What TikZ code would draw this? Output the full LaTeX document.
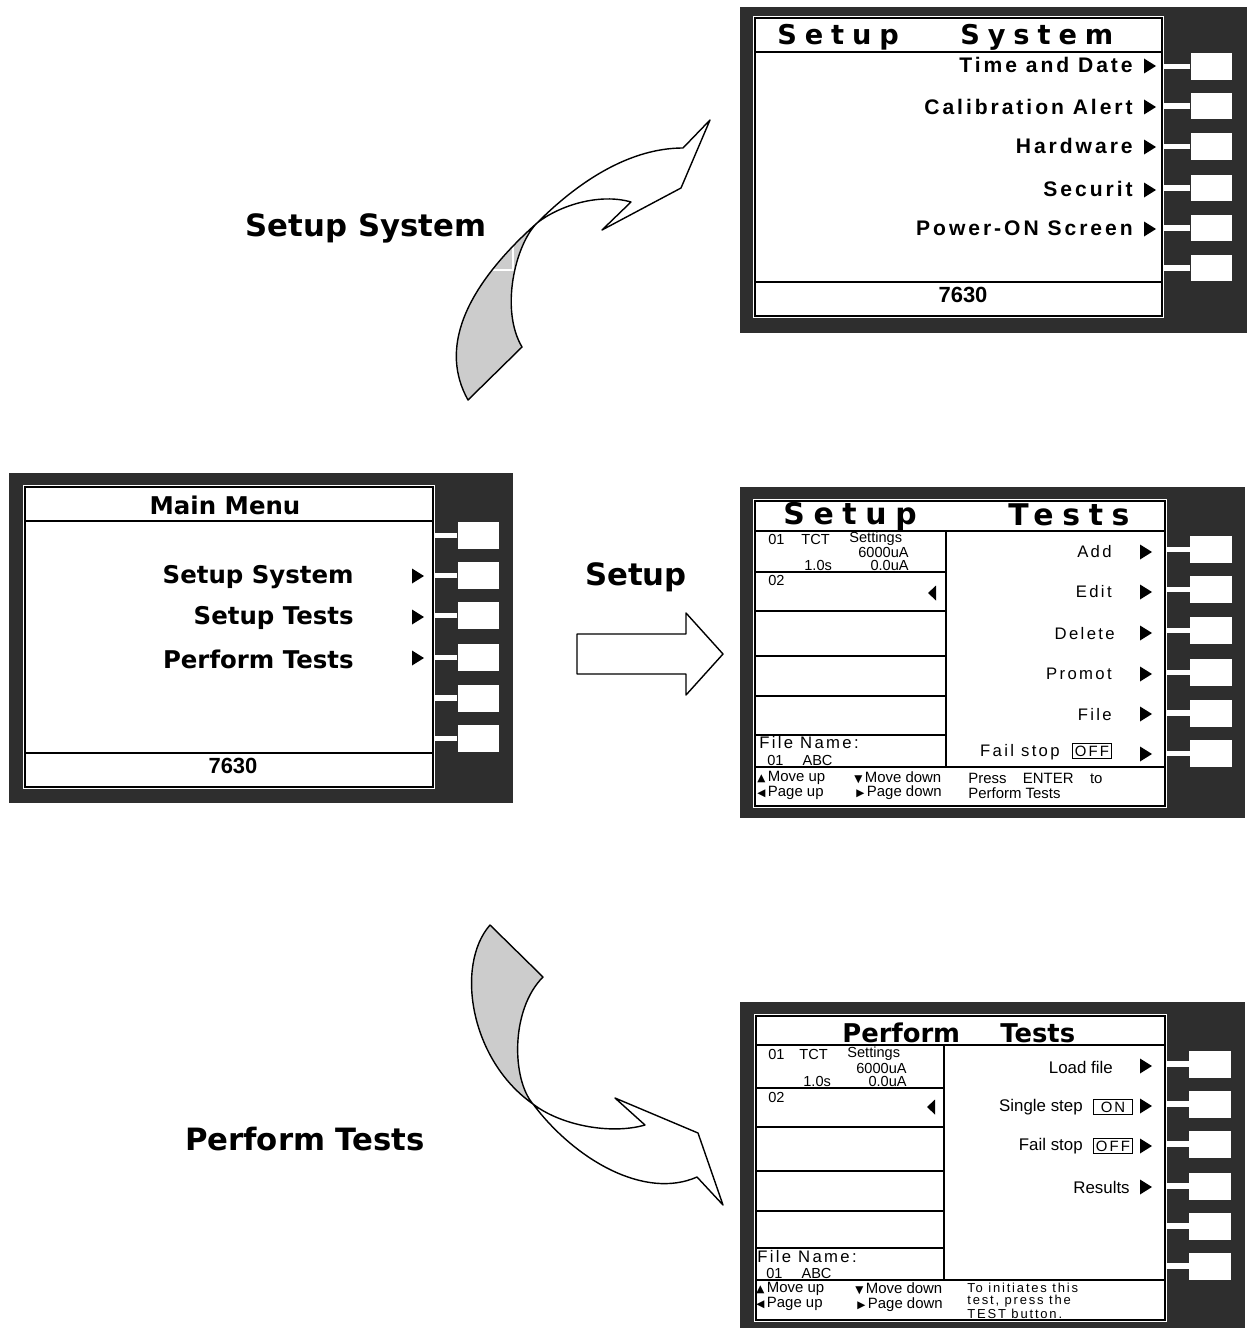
\documentclass[tikz,border=0pt]{standalone}
\usepackage{fontspec}
\setmainfont{Liberation Sans}
\newfontfamily\heavyfont{DejaVu Sans}
\newfontfamily\heavyspaced{DejaVu Sans}[LetterSpace=29]
\newfontfamily\spacedfont{Liberation Sans}[LetterSpace=14]
\newfontfamily\glyphfont{DejaVu Sans}
\usepackage{tikz}
\tikzstyle{caption}=[font=\heavyfont\bfseries\fontsize{17.5}{21}\selectfont, inner sep=0]
\tikzstyle{panel}=[fill=black!82]
\tikzstyle{screen}=[fill=white]
\tikzstyle{rule}=[line width=0.6pt]
\tikzstyle{btn}=[rectangle, fill=white, minimum width=0.83cm, minimum height=0.54cm, inner sep=0]
\tikzstyle{bar}=[white, line width=3.4pt]
\tikzstyle{curl}=[line width=0.8pt, line join=round]
\tikzstyle{hdr1}=[font=\heavyspaced\bfseries\fontsize{15.5}{18}\selectfont, anchor=base west, inner sep=0]
\tikzstyle{hdr2}=[font=\heavyspaced\bfseries\fontsize{17}{20}\selectfont, anchor=base west, inner sep=0]
\tikzstyle{hdr3}=[font=\heavyfont\bfseries\fontsize{14.7}{17}\selectfont, anchor=base west, inner sep=0]
\tikzstyle{mmtext}=[font=\heavyfont\bfseries\fontsize{13.9}{16}\selectfont, inner sep=0]
\tikzstyle{num}=[font=\bfseries\fontsize{12.5}{14}\selectfont, inner sep=0]
\tikzstyle{sysitem}=[font=\spacedfont\bfseries\fontsize{12}{14}\selectfont, anchor=east, inner sep=0]
\tikzstyle{tstitem}=[font=\spacedfont\fontsize{9.5}{11}\selectfont, anchor=east, inner sep=0]
\tikzstyle{perfitem}=[font=\fontsize{9.6}{11}\selectfont, anchor=east, inner sep=0]
\tikzstyle{tiny}=[font=\fontsize{8.3}{9}\selectfont, inner sep=0]
\tikzstyle{fname}=[font=\spacedfont\fontsize{9.5}{11}\selectfont, anchor=west, inner sep=0]
\tikzstyle{foot}=[font=\fontsize{8.5}{9}\selectfont, anchor=west, inner sep=0]
\tikzstyle{footsp}=[font=\spacedfont\fontsize{7.4}{6.8}\selectfont, anchor=west, align=left, inner sep=0]
\tikzstyle{onoff}=[draw, line width=0.6pt, font=\spacedfont\fontsize{8.5}{9}\selectfont, minimum width=0.78cm, minimum height=0.3cm, inner sep=0]
\newcommand\menutri[2]{\fill ({#1-6},{#2-7.5}) -- ({#1+6},{#2}) -- ({#1-6},{#2+7.5}) -- cycle;}
\newcommand\backtri[2]{\fill ({#1+4},{#2-7.5}) -- ({#1-4},{#2}) -- ({#1+4},{#2+7.5}) -- cycle;}
\newcommand\footmark[1]{{\glyphfont\fontsize{6}{6}\selectfont #1}}

\begin{document}
\begin{tikzpicture}[x=0.02cm,y=-0.02cm]
\useasboundingbox (0,0) rectangle (1249,1328);

%Curved arrow up
\fill[black!20] (468,400) .. controls (440,350) and (462,290) .. (537,223) .. controls (515,245) and (500,310) .. (522,347) -- cycle;
\node[caption, draw=white, line width=0.6pt, minimum width=5.88cm, minimum height=1.68cm] (capsys) at (366,228) {Setup System};
\draw[curl] (468,400) .. controls (440,350) and (462,290) .. (537,223) .. controls (590,170) and (640,148) .. (683,148) -- (710,120) -- (681,188) -- (602,230) -- (631,202) .. controls (600,193) and (560,205) .. (537,223) .. controls (515,245) and (500,310) .. (522,347) -- cycle;

%Straight arrow
\node[caption] (capset) at (636,577) {Setup};
\draw[curl] (577,634) -- (686,634) -- (686,613) -- (723,654) -- (686,695) -- (686,674) -- (577,674) -- cycle;

%Curved arrow down
\fill[black!20] (490,925) .. controls (455,965) and (470,1060) .. (533,1104) .. controls (512,1080) and (510,1010) .. (543,977) -- cycle;
\draw[curl] (490,925) .. controls (455,965) and (470,1060) .. (533,1104) .. controls (575,1160) and (645,1200) .. (697,1177) -- (723,1205) -- (698,1133) -- (615,1098) -- (645,1125) .. controls (610,1135) and (560,1125) .. (533,1104) .. controls (512,1080) and (510,1010) .. (543,977) -- cycle;
\node[caption] (capperf) at (305,1139) {Perform Tests};

%Main Menu
\fill[panel] (9,473) rectangle (513,803);
\fill[screen] (23,485) rectangle (435,789);
\draw[rule] (25,487) rectangle (433,787);
\draw[rule] (25,521) -- (433,521);
\draw[rule] (25,753) -- (433,753);
\node[mmtext] (mmtitle) at (225,505) {Main Menu};
\node[mmtext, anchor=east] (mm1) at (354,577) {Setup System};
\node[mmtext, anchor=east] (mm2) at (354,618) {Setup Tests};
\node[mmtext, anchor=east] (mm3) at (354,659) {Perform Tests};
\menutri{418}{576}
\menutri{418}{617}
\menutri{418}{658}
\node[num] (mmnum) at (233,766) {7630};
\foreach \y [count=\i] in {535.5,575.5,615.5,657.5,698,738.5}{
  \node[btn] (mmb\i) at (478.5,\y) {};
  \draw[bar] (mmb\i.west) -- ++(-23,0);
}

%Setup System
\fill[panel] (740,7) rectangle (1247,333);
\fill[screen] (753,16) rectangle (1164,318);
\draw[rule] (755,18) rectangle (1162,316);
\draw[rule] (755,52) -- (1162,52);
\draw[rule] (755,282) -- (1162,282);
\node[hdr1] (systitle1) at (777,45) {Setup};
\node[hdr1] (systitle2) at (960,45) {System};
\node[sysitem] (sys1) at (1133,65) {Time and Date};
\node[sysitem] (sys2) at (1133,107) {Calibration Alert};
\node[sysitem] (sys3) at (1133,146) {Hardware};
\node[sysitem] (sys4) at (1133,189) {Securit};
\node[sysitem] (sys5) at (1133,228) {Power-ON Screen};
\menutri{1150}{66}
\menutri{1150}{107}
\menutri{1150}{147}
\menutri{1150}{190}
\menutri{1150}{229}
\node[num] (sysnum) at (963,295) {7630};
\foreach \y [count=\i] in {66.5,106,146.5,188,228,268}{
  \node[btn] (sysb\i) at (1211.5,\y) {};
  \draw[bar] (sysb\i.west) -- ++(-27,0);
}

%Setup Tests
\fill[panel] (740,487) rectangle (1245,818);
\fill[screen] (753,499) rectangle (1167,808);
\draw[rule] (755,501) rectangle (1165,806);
\draw[rule] (755,531) -- (1165,531);
\draw[rule] (755,767) -- (1165,767);
\draw[rule] (946,531) -- (946,767);
\foreach \y in {572,611,656,696,735}{
  \draw[rule] (755,\y) -- (946,\y);
}
\node[hdr2] (tsttitle1) at (783,524) {Setup};
\node[hdr2] (tsttitle2) at (1008,525) {Tests};
\node[tiny, anchor=west] (st01) at (768,539) {01};
\node[tiny, anchor=west] (sttct) at (801,539) {TCT};
\node[tiny, anchor=west] (stset) at (849,539) {Settings};
\node[tiny, anchor=east] (stcur) at (909,552) {6000uA};
\node[tiny, anchor=west] (sttime) at (804,565) {1.0s};
\node[tiny, anchor=east] (stleak) at (909,565) {0.0uA};
\node[tiny, anchor=west] (st02) at (768,580) {02};
\backtri{932}{593}
\node[fname] (stfile) at (759,743) {File Name:};
\node[tiny, anchor=west] (stabc) at (767,760) {01\hspace{1.3em}ABC};
\node[foot] (stup) at (757,778) {\footmark{▲}\,Move up};
\node[foot] (stpgup) at (757,793) {\footmark{◀}\,Page up};
\node[foot] (stdown) at (854,778) {\footmark{▼}\,Move down};
\node[foot] (stpgdn) at (856,793) {\footmark{▶}\,Page down};
\node[foot] (stpress) at (968,778) {Press\hspace{1.1em}ENTER\hspace{1.1em}to};
\node[foot] (stperf) at (968,793) {Perform Tests};
\node[tstitem] (tst1) at (1112,552) {Add};
\node[tstitem] (tst2) at (1112,592) {Edit};
\node[tstitem] (tst3) at (1115,634) {Delete};
\node[tstitem] (tst4) at (1112,674) {Promot};
\node[tstitem] (tst5) at (1112,715) {File};
\node[tstitem] (tst6) at (1060,752) {Fail stop};
\node[onoff] (tstoff) at (1092,751) {OFF};
\menutri{1146}{552}
\menutri{1146}{592}
\menutri{1146}{633}
\menutri{1146}{674}
\menutri{1146}{714}
\menutri{1146}{754}
\foreach \y [count=\i] in {549.5,589.5,630.5,672.5,713,753.5}{
  \node[btn] (tstb\i) at (1211,\y) {};
  \draw[bar] (tstb\i.west) -- ++(-23,0);
}

%Perform Tests
\fill[panel] (740,1002) rectangle (1245,1328);
\fill[screen] (754,1014) rectangle (1167,1322);
\draw[rule] (756,1016) rectangle (1165,1320);
\draw[rule] (756,1045) -- (1165,1045);
\draw[rule] (756,1280) -- (1165,1280);
\draw[rule] (944,1045) -- (944,1280);
\foreach \y in {1088,1127,1171,1211,1248}{
  \draw[rule] (756,\y) -- (944,\y);
}
\node[hdr3] (pftitle1) at (842,1042) {Perform};
\node[hdr3] (pftitle2) at (1000,1042) {Tests};
\node[tiny, anchor=west] (pf01) at (768,1054) {01};
\node[tiny, anchor=west] (pftct) at (799,1054) {TCT};
\node[tiny, anchor=west] (pfset) at (847,1054) {Settings};
\node[tiny, anchor=east] (pfcur) at (907,1068) {6000uA};
\node[tiny, anchor=west] (pftime) at (803,1081) {1.0s};
\node[tiny, anchor=east] (pfleak) at (907,1081) {0.0uA};
\node[tiny, anchor=west] (pf02) at (768,1097) {02};
\backtri{931}{1107}
\node[fname] (pffile) at (757,1257) {File Name:};
\node[tiny, anchor=west] (pfabc) at (766,1273) {01\hspace{1.3em}ABC};
\node[foot] (pfup) at (756,1289) {\footmark{▲}\,Move up};
\node[foot] (pfpgup) at (756,1304) {\footmark{◀}\,Page up};
\node[foot] (pfdown) at (855,1289) {\footmark{▼}\,Move down};
\node[foot] (pfpgdn) at (857,1305) {\footmark{▶}\,Page down};
\node[footsp] (pfnote) at (967,1300.5) {To initiates this\\test, press the\\TEST button.};
\node[perfitem] (pf1) at (1113,1067) {Load file};
\node[perfitem] (pf2) at (1083,1107) {Single step};
\node[onoff] (pfon) at (1113,1107) {ON};
\node[perfitem] (pf3) at (1083,1146) {Fail stop};
\node[onoff] (pfoff) at (1113,1146) {OFF};
\node[perfitem] (pf4) at (1130,1187) {Results};
\menutri{1146}{1066}
\menutri{1146}{1106}
\menutri{1146}{1146}
\menutri{1146}{1187}
\foreach \y [count=\i] in {1064,1104,1144,1186,1226,1266}{
  \node[btn] (pfb\i) at (1210,\y) {};
  \draw[bar] (pfb\i.west) -- ++(-22,0);
}
\end{tikzpicture}
\end{document}
